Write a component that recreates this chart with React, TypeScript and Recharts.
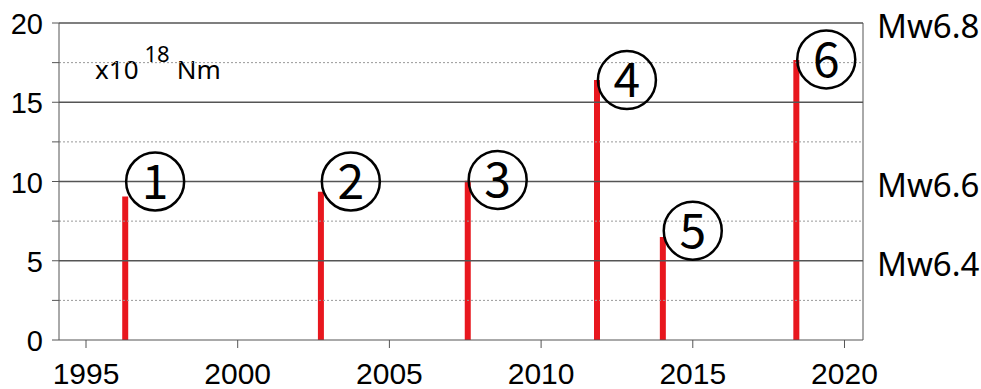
import React from 'react';
import { ComposedChart, Bar, Scatter, XAxis, YAxis, ReferenceLine, Customized } from 'recharts';

const years = [1996.29, 2002.74, 2007.58, 2011.84, 2014.01, 2018.41];
const moment = [9.05, 9.35, 10.05, 16.4, 6.5, 17.67];
const eventNo = ['1', '2', '3', '4', '5', '6'];
const labelLevel = [10, 10, 10.1, 16.4, 6.9, 17.7];
const xTicks = [1995, 2000, 2005, 2010, 2015, 2020];
const yTicks = [0, 2.5, 5, 7.5, 10, 12.5, 15, 17.5, 20];
const majorGrid = [5, 10, 15, 20];
const minorGrid = [2.5, 7.5, 12.5, 17.5];
const mwTicks = [5, 10, 20];
const mwLabels: Record<number, string> = { 5: 'Mw6.4', 10: 'Mw6.6', 20: 'Mw6.8' };

const data = years.map((x, i) => ({ x, m: moment[i] }));
const labelData = years.map((x, i) => ({ x, y: labelLevel[i], n: eventNo[i] }));

const JP = '"Noto Sans CJK JP", "Noto Sans", sans-serif';
const NS = '"Noto Sans", "DejaVu Sans", sans-serif';
const LS = '"Liberation Sans", Arial, sans-serif';
const RED = '#e8171e';
const AX = '#555';

const CircleLabel = (props: any) => {
  const { cx, cy, payload } = props;
  const x = cx + 30;
  return (
    <g>
      <circle cx={x} cy={cy} r={29} fill="none" stroke="#000" strokeWidth={2.5} />
      <text x={x} y={cy} dy="0.36em" textAnchor="middle" fontSize={48} fontFamily={JP} fill="#000">
        {payload.n}
      </text>
    </g>
  );
};

const XTick = (props: any) => {
  const { x, y, payload } = props;
  return (
    <text x={x} y={y} dy={32} textAnchor="middle" fontSize={30} fontFamily={LS} fill="#000">
      {payload.value}
    </text>
  );
};

const YTick = (props: any) => {
  const { x, y, payload } = props;
  const v = payload.value as number;
  if (v % 5 !== 0) return <g />;
  return (
    <text x={x} y={y} dy={11} textAnchor="end" fontSize={29} fontFamily={LS} fill="#000">
      {v}
    </text>
  );
};

const MwTick = (props: any) => {
  const { x, y, payload } = props;
  const s = mwLabels[payload.value as number];
  if (!s) return <g />;
  return (
    <text x={x} y={y} dy={15} textAnchor="start" fontSize={33} fontFamily={NS} fill="#000">
      {s}
    </text>
  );
};

const UnitText = () => (
  <text x={95} y={79} fontFamily={NS} fontSize={26} fill="#000">
    x10
    <tspan dy={-17} dx={6} fontSize={22}>18</tspan>
    <tspan dy={17} dx={7}>Nm</tspan>
  </text>
);

export default function App() {
  return (
    <div style={{ position: 'absolute', left: 0, top: 0, background: '#fff' }}>
      <ComposedChart
        width={981}
        height={389}
        data={data}
        margin={{ top: 23, right: 0, bottom: 0, left: 0 }}
      >
        <XAxis
          dataKey="x"
          type="number"
          domain={[1994.11, 2020.61]}
          ticks={xTicks}
          allowDataOverflow
          height={49}
          tickSize={8}
          tickMargin={4}
          stroke={AX}
          tick={XTick}
        />
        <YAxis
          yAxisId="l"
          type="number"
          domain={[0, 20]}
          ticks={yTicks}
          interval={0}
          width={59}
          tickSize={7}
          tickMargin={9}
          stroke={AX}
          tick={YTick}
        />
        <YAxis
          yAxisId="r"
          orientation="right"
          type="number"
          domain={[0, 20]}
          ticks={mwTicks}
          interval={0}
          width={118}
          tickLine={false}
          tickSize={6}
          tickMargin={8}
          stroke={AX}
          tick={MwTick}
        />
        <Bar yAxisId="l" dataKey="m" barSize={6} fill={RED} isAnimationActive={false} />
        {minorGrid.map((v) => (
          <ReferenceLine key={'mi' + v} yAxisId="l" y={v} stroke="#999" strokeWidth={1} strokeDasharray="2 2" />
        ))}
        {majorGrid.map((v) => (
          <ReferenceLine key={'ma' + v} yAxisId="l" y={v} stroke={AX} strokeWidth={1.4} />
        ))}
        <Scatter
          yAxisId="r"
          data={labelData}
          dataKey="y"
          shape={CircleLabel}
          isAnimationActive={false}
        />
        <Customized component={UnitText} />
      </ComposedChart>
    </div>
  );
}
